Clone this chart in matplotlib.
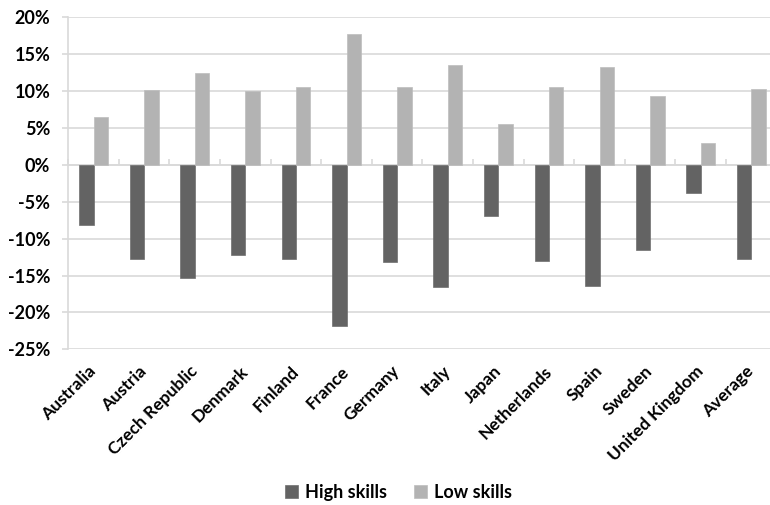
import matplotlib
matplotlib.use("Agg")
import matplotlib.pyplot as plt
import numpy as np
from matplotlib.ticker import FuncFormatter

countries = ["Australia", "Austria", "Czech Republic", "Denmark", "Finland", "France",
             "Germany", "Italy", "Japan", "Netherlands", "Spain", "Sweden",
             "United Kingdom", "Average"]
high_skills = [-8.1, -12.7, -15.4, -12.2, -12.8, -21.9, -13.2, -16.6, -6.9, -13.0,
               -16.4, -11.6, -3.8, -12.7]
low_skills = [6.5, 10.2, 12.4, 10.0, 10.5, 17.8, 10.6, 13.5, 5.6, 10.5, 13.3, 9.4, 3.0, 10.3]
yticks = [-25, -20, -15, -10, -5, 0, 5, 10, 15, 20]

plt.rcParams['font.family'] = ['Lato', 'DejaVu Sans']
plt.rcParams['font.weight'] = 'bold'

fig = plt.figure(figsize=(7.7, 5.05), dpi=100)
ax = fig.add_axes([0.0887, 0.3083, 0.920, 0.6574])

x = np.arange(len(countries))
w = 0.283
ax.bar(x - w / 2, high_skills, w, color='#636363', edgecolor='#6e6e6e', linewidth=0.5,
       label='High skills', zorder=3)
ax.bar(x + w / 2, low_skills, w, color='#b3b3b3', edgecolor='#bdbdbd', linewidth=0.5,
       label='Low skills', zorder=3)

ax.set_xlim(-0.5, len(countries) - 0.5)
ax.set_ylim(-25, 20)
ax.set_yticks(yticks)
ax.yaxis.set_major_formatter(FuncFormatter(lambda v, p: f"{int(v)}%"))
ax.yaxis.grid(True, color='#d9d9d9', linewidth=1.2, zorder=0)
ax.tick_params(axis='y', length=4, direction='out', color='#d9d9d9', width=1.2,
               pad=9, labelsize=13)
for s in ['top', 'right', 'bottom']:
    ax.spines[s].set_visible(False)
ax.spines['left'].set_color('#d9d9d9')
ax.spines['left'].set_linewidth(1.2)

ax.set_xticks(x)
ax.set_xticklabels(countries, rotation=45, ha='right', va='center', rotation_mode='anchor',
                   fontsize=12.5)
ax.tick_params(axis='x', length=0, pad=14)

ax.axhline(0, color='#d9d9d9', linewidth=1.2, zorder=2)
sec = ax.secondary_xaxis(25 / 45)
sec.set_xticks(np.arange(len(countries) + 1) - 0.5)
sec.set_xticklabels([])
sec.tick_params(axis='x', direction='out', length=4, color='#d9d9d9', width=1.2)
sec.spines['bottom'].set_visible(False)
sec.spines['top'].set_visible(False)

fig.legend(loc='center', bbox_to_anchor=(0.518, 0.025), ncol=2, frameon=False,
           fontsize=13, handlelength=0.7, handleheight=0.7, handletextpad=0.4,
           columnspacing=1.5)

fig.savefig("out.png", dpi=100)
